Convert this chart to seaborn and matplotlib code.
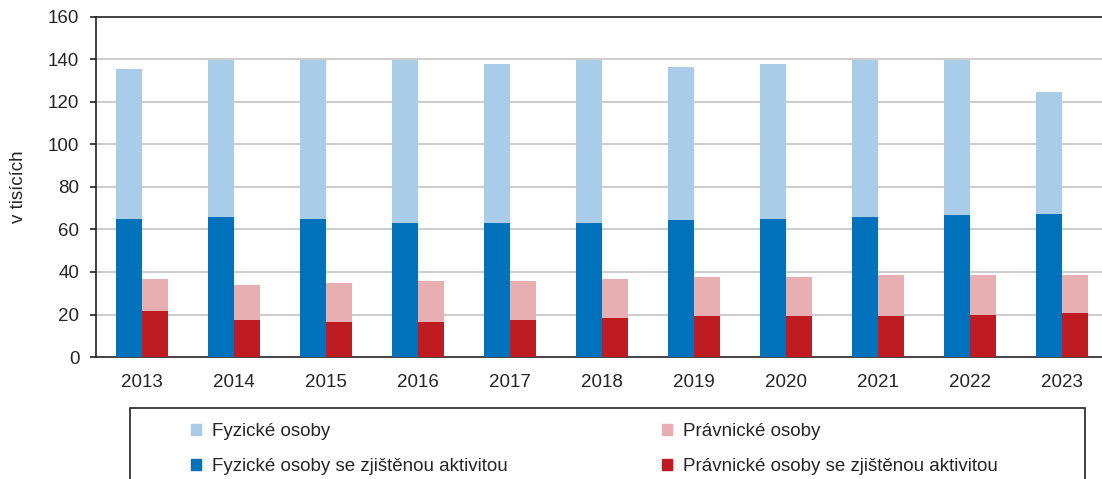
import pandas as pd
import numpy as np
import seaborn as sns
import matplotlib.pyplot as plt
from matplotlib.patches import Patch, Rectangle

# --- data (v tisících) ---
roky = ['2013', '2014', '2015', '2016', '2017', '2018', '2019', '2020', '2021', '2022', '2023']
fyzicke = [135.4, 139.8, 139.8, 139.8, 138.1, 139.8, 136.3, 138.1, 139.8, 139.8, 124.9]
fyzicke_akt = [64.9, 65.8, 64.9, 63.2, 63.2, 63.2, 64.3, 64.9, 65.8, 66.6, 67.5]
pravnicke = [36.5, 34.0, 34.8, 35.7, 35.7, 36.7, 37.6, 37.6, 38.4, 38.4, 38.4]
pravnicke_akt = [21.6, 17.3, 16.3, 16.3, 17.3, 18.2, 19.1, 19.1, 19.1, 19.9, 20.9]

skupiny = ['Fyzické', 'Právnické']
nazvy = ['Fyzické osoby', 'Fyzické osoby se zjištěnou aktivitou',
         'Právnické osoby', 'Právnické osoby se zjištěnou aktivitou']

C_FYZ, C_FYZ_AKT = '#A9CDE8', '#0072BC'
C_PRAV, C_PRAV_AKT = '#E8AFB2', '#BE1B22'
FS = 13.5

# long tables for seaborn
celkem = pd.DataFrame({'rok': roky * 2,
                       'skupina': ['Fyzické'] * len(roky) + ['Právnické'] * len(roky),
                       'hodnota': fyzicke + pravnicke})
aktivni = pd.DataFrame({'rok': roky * 2,
                        'skupina': ['Fyzické'] * len(roky) + ['Právnické'] * len(roky),
                        'hodnota': fyzicke_akt + pravnicke_akt})

sns.set_style('white')
plt.rcParams['font.family'] = ['Liberation Sans', 'DejaVu Sans']

fig = plt.figure(figsize=(11.02, 4.79), dpi=100)
ax = fig.add_axes([96 / 1102, 122 / 479, 1012 / 1102, 340 / 479])

sns.barplot(data=celkem, x='rok', y='hodnota', hue='skupina', hue_order=skupiny,
            palette=[C_FYZ, C_PRAV], width=0.566, dodge=True, saturation=1,
            errorbar=None, legend=False, ax=ax, zorder=2, linewidth=0)
sns.barplot(data=aktivni, x='rok', y='hodnota', hue='skupina', hue_order=skupiny,
            palette=[C_FYZ_AKT, C_PRAV_AKT], width=0.566, dodge=True, saturation=1,
            errorbar=None, legend=False, ax=ax, zorder=3, linewidth=0)

ax.set_xlim(-0.5, len(roky) - 0.5)
ax.set_ylim(0, 160)
ax.set_yticks(np.arange(0, 161, 20))
ax.set_xlabel('')
ax.set_ylabel('v tisících', fontsize=FS)
ax.yaxis.set_label_coords(-0.068, 0.5)

# gridlines only between 20 and 140
for y in range(20, 160, 20):
    ax.axhline(y, color='#C8C8C8', lw=1.3, zorder=1)

for s in ['left', 'bottom', 'top']:
    ax.spines[s].set_color('#222222')
    ax.spines[s].set_linewidth(1.2)
ax.spines['right'].set_visible(False)

# x ticks on category boundaries, labels at centres
ax.set_xticks(np.arange(-0.5, len(roky), 1), minor=False)
ax.set_xticklabels([''] * (len(roky) + 1))
ax.set_xticks(np.arange(len(roky)), minor=True)
ax.set_xticklabels(roky, minor=True, fontsize=FS)
ax.tick_params(axis='x', which='major', direction='out', length=5, width=1.2, color='#222222')
ax.tick_params(axis='x', which='minor', length=0, pad=12)
ax.tick_params(axis='y', direction='out', length=4, width=1.2, color='#222222',
               labelsize=FS, pad=8, left=True)

# legend box (open at the bottom, as in the source)
fig.patches.append(Rectangle((130 / 1102, -0.05), 955 / 1102, 71 / 479 + 0.05,
                             transform=fig.transFigure, fill=False,
                             edgecolor='#222222', lw=1.2))
handles = [Patch(color=c) for c in [C_FYZ, C_FYZ_AKT, C_PRAV, C_PRAV_AKT]]
fig.legend(handles, nazvy, ncol=2, loc='upper left', frameon=False,
           bbox_to_anchor=(191 / 1102, 56 / 479), fontsize=FS,
           handlelength=0.53, handleheight=0.53, handletextpad=0.6,
           labelspacing=0.97, columnspacing=8.2, borderpad=0, borderaxespad=0)

plt.savefig('out.png', dpi=100)
